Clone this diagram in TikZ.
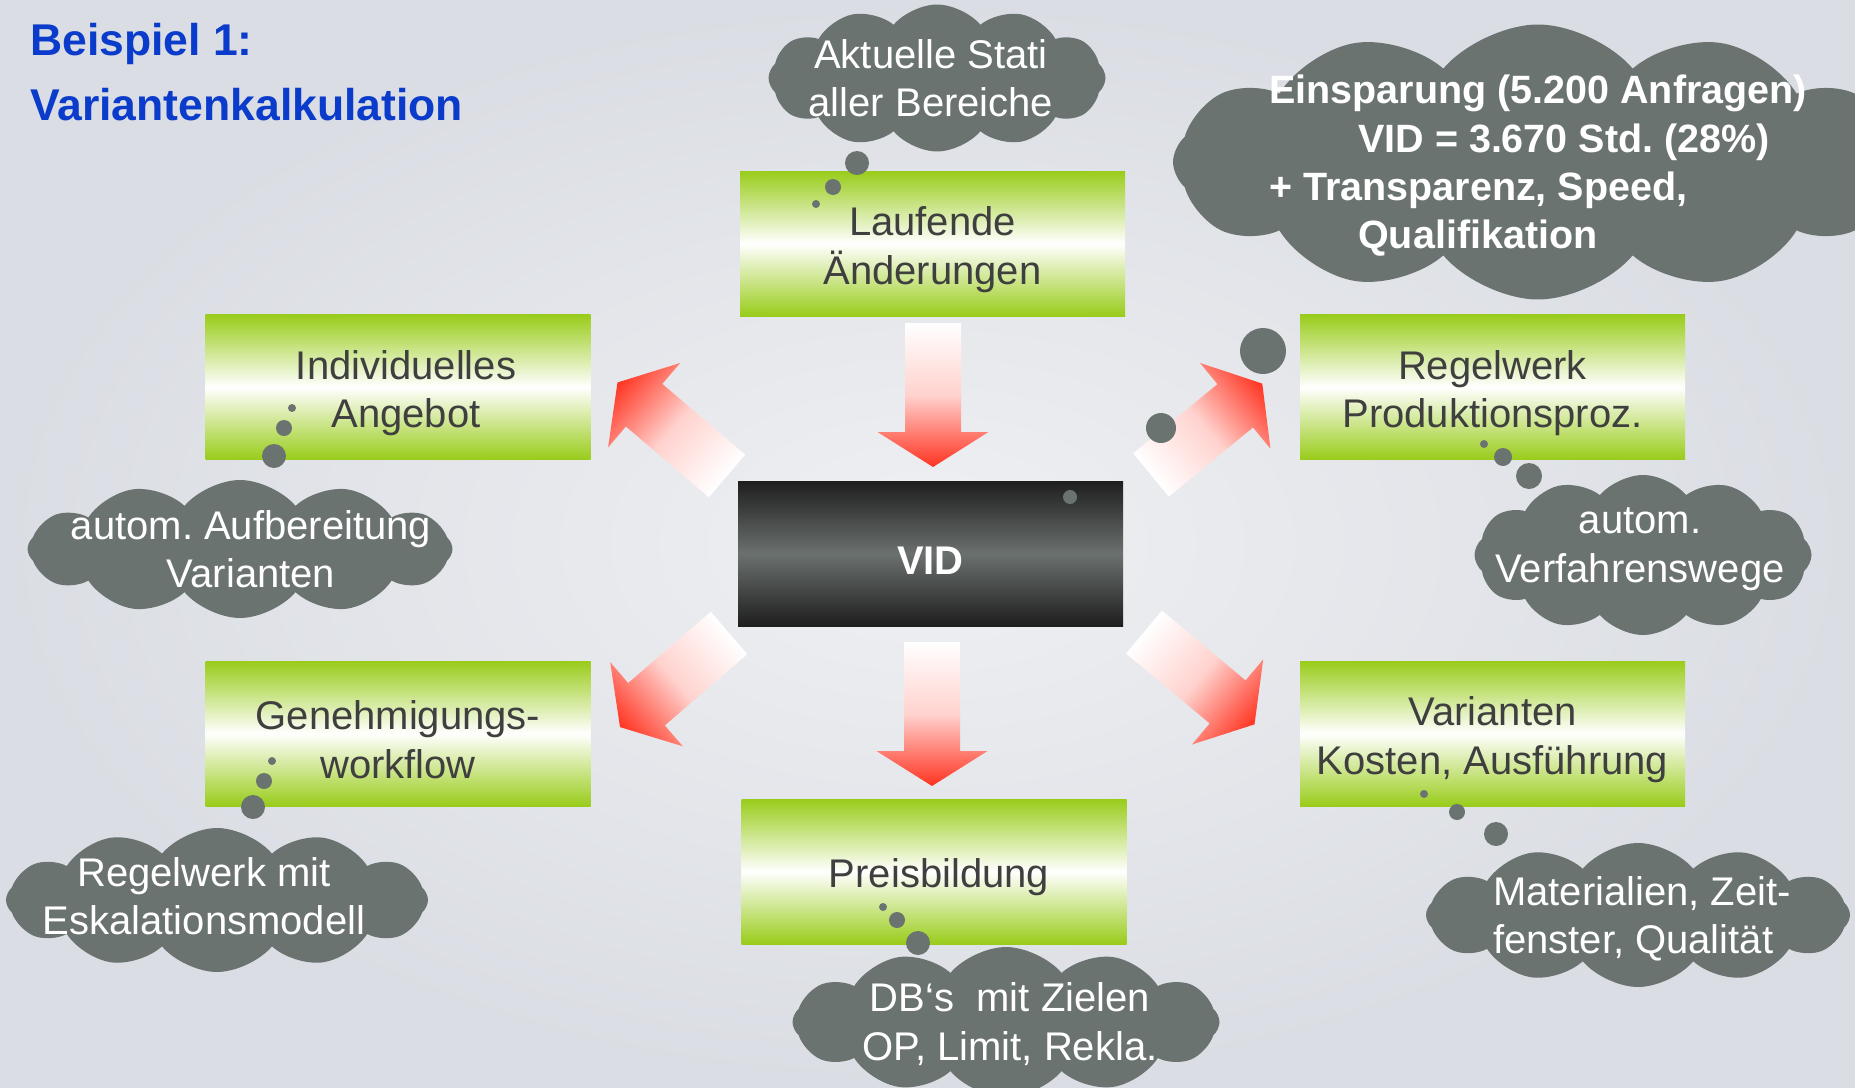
\documentclass[tikz,border=0pt]{standalone}
\usepackage{fontspec}
\setmainfont{Liberation Sans}
\usetikzlibrary{shapes.symbols}
\frenchspacing

\definecolor{titelblau}{HTML}{0B3BCB}
\definecolor{kastengruen}{HTML}{99CC1A}
\definecolor{wolkengrau}{HTML}{6B7370}
\definecolor{pfeilrot}{HTML}{FF3320}
\definecolor{textgrau}{HTML}{3F3F3F}
\definecolor{vidschwarz}{HTML}{1E1E1E}
\definecolor{vidgrau}{HTML}{6B716E}
\definecolor{hgmitte}{HTML}{EFF0F3}
\definecolor{hgrand}{HTML}{DADDE3}

% Blockpfeil: Fuss (x,y), Richtung in Grad
\newcommand{\blockpfeil}[3]{%
  \begin{scope}[transform canvas={shift={(#1,#2)},rotate=#3}]
    \shade[left color=white,right color=pfeilrot,middle color=pfeilrot!22]
      (0,-28) -- (109,-28) -- (109,-55.5) -- (144,0) -- (109,55.5) -- (109,28) -- (0,28) -- cycle;
  \end{scope}}
% unsichtbare Stuetze, schiebt den Kastentext etwas nach unten
\newcommand{\oben}{\rule{0pt}{41pt}}

\begin{document}
\begin{tikzpicture}[x=1pt, y=-1pt,
  kasten/.style={rectangle, minimum width=385pt, minimum height=145pt, inner sep=0pt,
    top color=kastengruen, bottom color=kastengruen, middle color=white,
    text=textgrau, align=center, font=\fontsize{40}{48.5}\selectfont},
  wolke/.style={cloud, cloud puffs=12, cloud puff arc=100, cloud ignores aspect,
    fill=wolkengrau, inner sep=0pt},
  wolkentext/.style={text=white, align=center, inner sep=0pt, font=\fontsize{40}{48.5}\selectfont},
  fettweiss/.style={text=white, anchor=base west, inner sep=0pt, font=\bfseries\fontsize{39.5}{48}\selectfont},
  blase/.style={fill=wolkengrau}]
\useasboundingbox (0,0) rectangle (1855,1087);
\shade[inner color=hgmitte, outer color=hgrand] (0,0) rectangle (1855,1087);

\node[anchor=base west, inner sep=0pt, text=titelblau, font=\bfseries\fontsize{44.5}{50}\selectfont] (titel1) at (30,55) {Beispiel 1:};
\node[anchor=base west, inner sep=0pt, text=titelblau, font=\bfseries\fontsize{44.5}{50}\selectfont] (titel2) at (30,120) {Variantenkalkulation};

% Pfeile
\blockpfeil{933}{323}{-90}
\blockpfeil{932}{642}{-90}
\blockpfeil{727}{476}{139.5}
\blockpfeil{1151}{475}{39.4}
\blockpfeil{729}{633}{-139.2}
\blockpfeil{1144}{632}{-39.9}

% Kaesten
\node[kasten] (laufend) at (932.5,243.5) {\oben Laufende\\Änderungen};
\node[kasten] (indiv) at (398,387) {\oben\hspace*{16pt}Individuelles\\\hspace*{16pt}Angebot};
\node[kasten] (regel) at (1492.5,387) {\oben Regelwerk\\Produktionsproz.};
\node[kasten] (genehm) at (398,733.5) {\oben Genehmigungs-\\workflow};
\node[kasten] (varianten) at (1492.5,733.5) {\oben Varianten\\Kosten, Ausführung};
\node[kasten] (preis) at (934,871.5) {\oben\hspace*{10pt}Preisbildung};
\node[rectangle, minimum width=385pt, minimum height=145pt, inner sep=0pt,
  top color=vidschwarz, bottom color=vidschwarz, middle color=vidgrau,
  text=white, font=\bfseries\fontsize{40}{48}\selectfont] (vid) at (930.5,553.5) {\oben VID};

% Wolken
\node[wolke, minimum width=337pt, minimum height=147pt] (wAktuell) at (937,78) {};
\node[wolke, minimum width=730pt, minimum height=275pt] (wEinspar) at (1538,162) {};
\node[wolke, minimum width=425pt, minimum height=138pt] (wAufb) at (240,549) {};
\node[wolke, minimum width=337pt, minimum height=160pt] (wVerf) at (1643,555) {};
\node[wolke, minimum width=422pt, minimum height=144pt] (wEskal) at (217,900) {};
\node[wolke, minimum width=424pt, minimum height=144pt] (wMat) at (1638,915) {};
\node[wolke, minimum width=427pt, minimum height=150pt] (wDB) at (1006,1022) {};

% Blasen
\fill[blase] (857,163) circle (12) (833,187) circle (8) (816,204) circle (4);
\fill[blase] (292,408) circle (4) (284,428) circle (8) (274,456) circle (12);
\fill[blase] (1484,444) circle (4) (1503,457) circle (9) (1529,476) circle (13);
\fill[blase] (272,761) circle (4) (264,781) circle (8) (253,807) circle (12);
\fill[blase] (1424,794) circle (4) (1457,812) circle (8) (1496,834) circle (12);
\fill[blase] (883,907) circle (4) (897,920) circle (8) (918,943) circle (12);
\fill[blase] (1263,351) circle (23) (1161,428) circle (15) (1070,497) circle (7);

% Wolkentexte
\node[wolkentext] (tAktuell) at (931,78) {Aktuelle Stati\\aller Bereiche};
\node[wolkentext] (tAufb) at (251,549) {autom. Aufbereitung\\Varianten};
\node[wolkentext] (tVerf) at (1640,549) {autom.\\Verfahrenswege};
\node[wolkentext] (tEskal) at (204,896) {Regelwerk mit\\Eskalationsmodell};
\node[wolkentext, align=left] (tMat) at (1642,919) {Materialien, Zeit-\\fenster, Qualität};
\node[wolkentext] (tDB) at (1010,1024) {DB‘s~ mit Zielen\\OP, Limit, Rekla.};
\node[fettweiss] (tEin1) at (1269,103) {Einsparung (5.200 Anfragen)};
\node[fettweiss] (tEin2) at (1358,152) {VID = 3.670 Std. (28\%)};
\node[fettweiss] (tEin3) at (1269,200) {+ Transparenz, Speed,};
\node[fettweiss] (tEin4) at (1358,248) {Qualifikation};
\end{tikzpicture}
\end{document}
